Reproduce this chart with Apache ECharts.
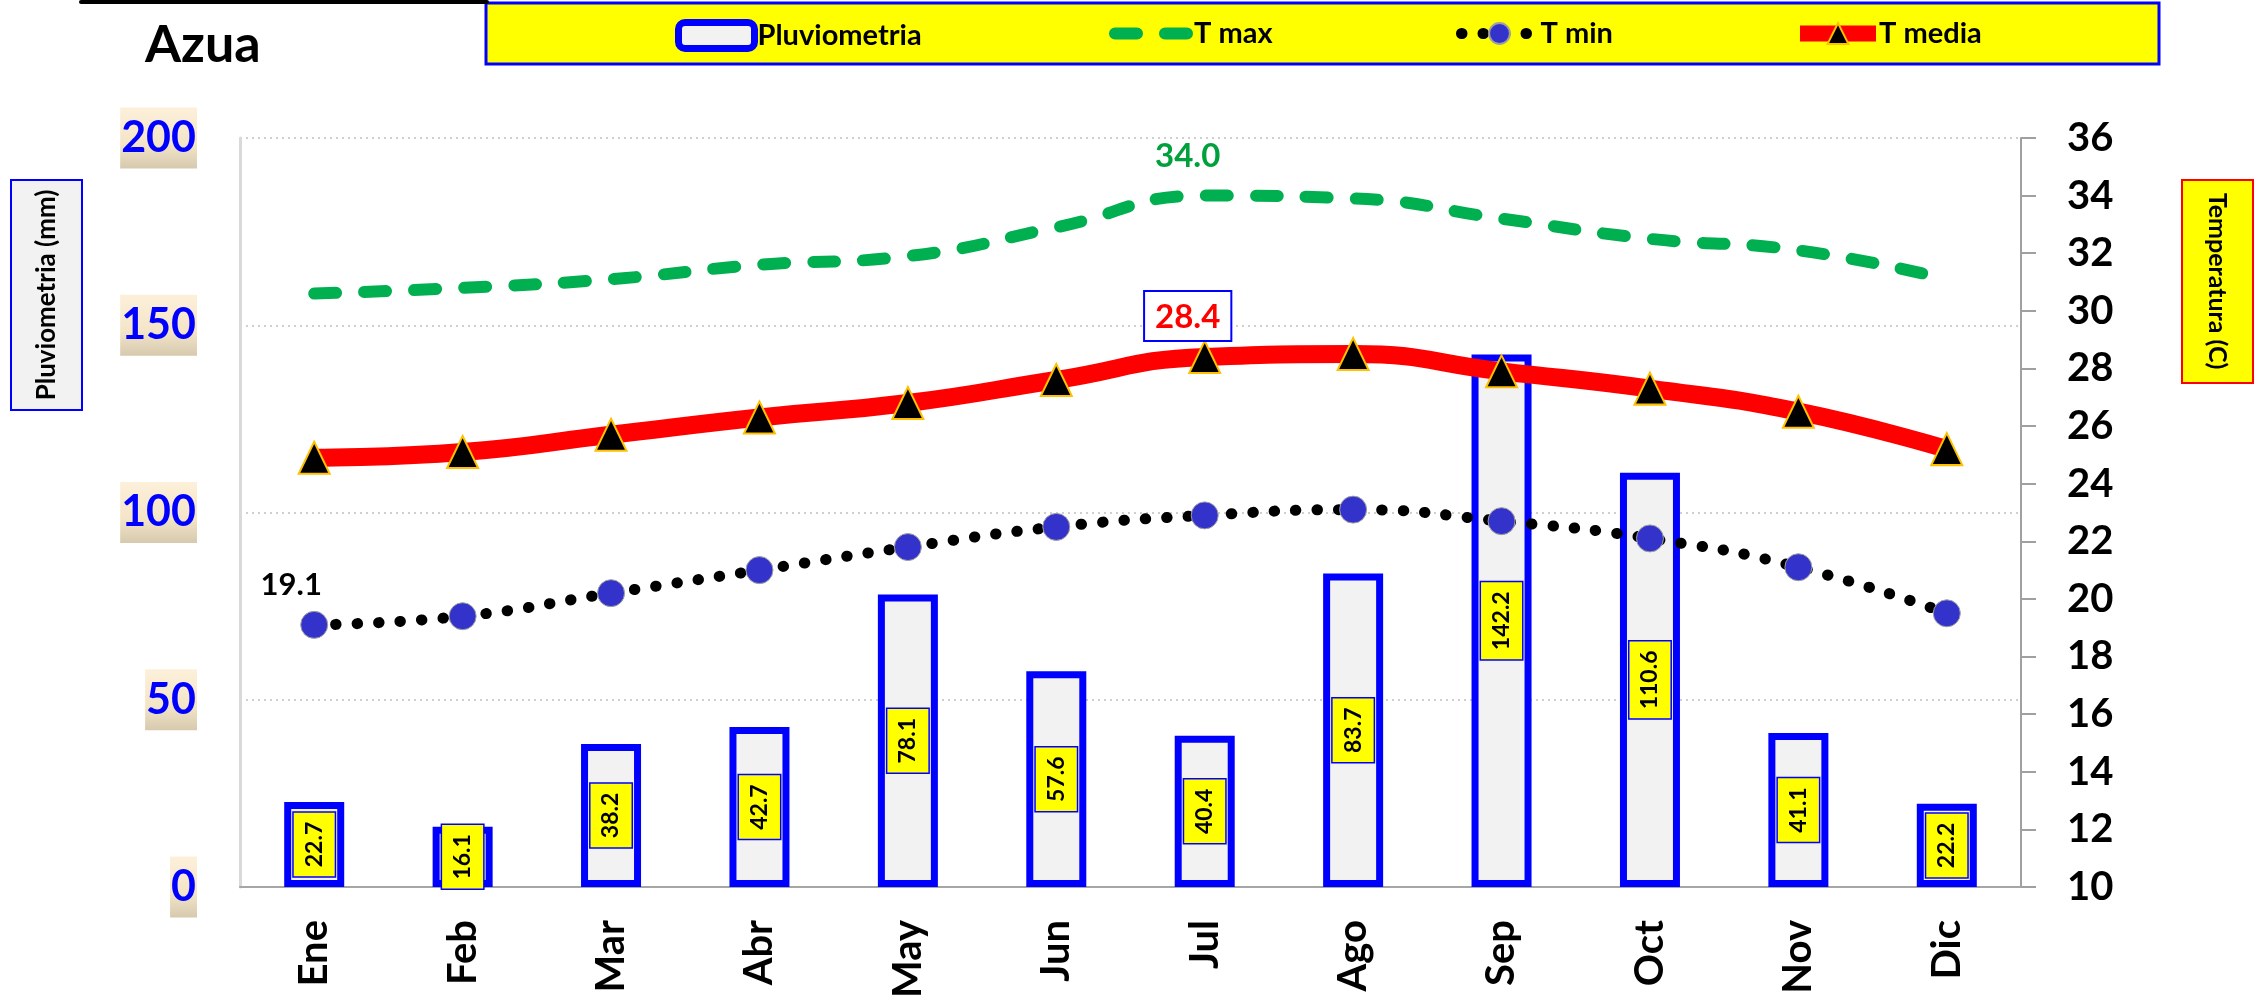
<!DOCTYPE html>
<html>
<head>
<meta charset="utf-8">
<title>Azua</title>
<script src="https://cdn.jsdelivr.net/npm/echarts@6/dist/echarts.min.js"></script>
<style>
html, body { margin: 0; padding: 0; background: #fff; }
#chart { width: 2262px; height: 1004px; }
</style>
</head>
<body>
<div id="chart"></div>
<script>
const months = ['Ene', 'Feb', 'Mar', 'Abr', 'May', 'Jun', 'Jul', 'Ago', 'Sep', 'Oct', 'Nov', 'Dic'];
const rain = [22.7, 16.1, 38.2, 42.7, 78.1, 57.6, 40.4, 83.7, 142.2, 110.6, 41.1, 22.2];
const tMax = [30.6, 30.8, 31.1, 31.6, 31.9, 32.9, 34.0, 33.9, 33.2, 32.5, 32.1, 31.1];
const tMin = [19.1, 19.4, 20.2, 21.0, 21.8, 22.5, 22.9, 23.1, 22.7, 22.1, 21.1, 19.5];
const tMedia = [24.9, 25.1, 25.7, 26.3, 26.8, 27.6, 28.4, 28.5, 27.9, 27.3, 26.5, 25.2];
const rainTicks = [0, 50, 100, 150, 200];
const tempTicks = [10, 12, 14, 16, 18, 20, 22, 24, 26, 28, 30, 32, 34, 36];

// which points carry a value label
const tMaxLabelAt = 6;
const tMinLabelAt = 0;
const tMediaLabelAt = 6;

// Calibri look-alike
const font = "Lato, 'Open Sans', sans-serif";

function pick(values, idx, label) {
    return values.map((v, i) => i === idx ? { value: v, label: Object.assign({ show: true }, label) } : v);
}

const chart = echarts.init(document.getElementById('chart'));

const labelBg = new echarts.graphic.LinearGradient(0, 0, 0, 1, [
    { offset: 0, color: '#FDF0DA' },
    { offset: 0.6, color: '#F4E5C8' },
    { offset: 1, color: '#D6C9AE' }
]);

function legendAt(item, left) {
    return {
        data: [item],
        left: left,
        top: 19,
        itemWidth: 76,
        itemHeight: 26,
        itemGap: 0,
        padding: 0,
        selectedMode: false,
        textStyle: { fontFamily: font, fontWeight: 'bold', fontSize: 29, color: '#000', padding: [2, 0, 0, -2] }
    };
}

chart.setOption({
    animation: false,
    backgroundColor: '#fff',
    grid: { left: 240, right: 241, top: 138, bottom: 117 },
    legend: [
        legendAt({ name: 'Pluviometria', itemStyle: { borderWidth: 7 } }, 675),
        legendAt({ name: 'T max', lineStyle: { width: 12 } }, 1109),
        legendAt({ name: 'T min', lineStyle: { width: 11 } }, 1456),
        legendAt({ name: 'T media', lineStyle: { width: 16 } }, 1792)
    ],
    graphic: [
        { type: 'rect', shape: { x: 79, y: 0, width: 410, height: 4, r: 2 }, style: { fill: '#000' } },
        { type: 'rect', shape: { x: 486, y: 3, width: 1673, height: 61 }, style: { fill: '#FFFF00', stroke: '#0000FF', lineWidth: 3 }, z: -1 },
        { type: 'text', x: 145, y: 45, style: { text: 'Azua', font: "bold 52px " + font, fill: '#000', textVerticalAlign: 'middle' } },
        { type: 'rect', shape: { x: 11, y: 180, width: 71, height: 230 }, style: { fill: '#F2F2F2', stroke: '#0000FF', lineWidth: 2 } },
        { type: 'text', x: 47, y: 295, rotation: Math.PI / 2, style: { text: 'Pluviometria (mm)', font: "bold 26px " + font, fill: '#000', textAlign: 'center', textVerticalAlign: 'middle' } },
        { type: 'rect', shape: { x: 2182, y: 180, width: 71, height: 203 }, style: { fill: '#FFFF00', stroke: '#FF0000', lineWidth: 2 } },
        { type: 'text', x: 2217, y: 281, rotation: -Math.PI / 2, style: { text: 'Temperatura (C)', font: "bold 25px " + font, fill: '#000', textAlign: 'center', textVerticalAlign: 'middle' } }
    ],
    xAxis: {
        type: 'category',
        data: months,
        axisLine: { lineStyle: { color: '#A6A6A6', width: 2 } },
        axisTick: { show: false },
        axisLabel: { rotate: 90, margin: 33, fontFamily: font, fontWeight: 'bold', fontSize: 40, color: '#000' }
    },
    yAxis: [
        {
            type: 'value',
            min: rainTicks[0],
            max: rainTicks[rainTicks.length - 1],
            interval: rainTicks[1] - rainTicks[0],
            axisLine: { show: true, lineStyle: { color: '#D9D9D9', width: 3 } },
            axisTick: { show: false },
            splitLine: { lineStyle: { color: '#CFCFCF', width: 2, type: [2, 4] } },
            axisLabel: {
                margin: 43,
                fontFamily: font, fontWeight: 'bold', fontSize: 43, color: '#0000FF',
                backgroundColor: labelBg,
                padding: [10, 1, 8, 1]
            }
        },
        {
            type: 'value',
            position: 'right',
            min: tempTicks[0],
            max: tempTicks[tempTicks.length - 1],
            interval: tempTicks[1] - tempTicks[0],
            axisLine: { show: true, lineStyle: { color: '#A0A0A0', width: 2 } },
            axisTick: { show: true, length: 15, lineStyle: { color: '#A0A0A0', width: 2 } },
            splitLine: { show: false },
            axisLabel: { margin: 46, fontFamily: font, fontWeight: 'bold', fontSize: 40, color: '#000' }
        }
    ],
    series: [
        {
            name: 'Pluviometria',
            type: 'bar',
            yAxisIndex: 0,
            barWidth: 60,
            data: rain,
            itemStyle: { color: '#F2F2F2', borderColor: '#0000FF', borderWidth: 7 },
            label: {
                show: true,
                position: 'inside',
                rotate: 90,
                formatter: p => p.value.toFixed(1),
                fontFamily: font, fontWeight: 'bold', fontSize: 23, color: '#000',
                backgroundColor: '#FFFF00', borderColor: '#0000FF', borderWidth: 1.5,
                padding: [10, 9, 8, 9]
            }
        },
        {
            name: 'T max',
            type: 'line',
            yAxisIndex: 1,
            smooth: true,
            symbol: 'circle',
            symbolSize: 1,
            itemStyle: { color: 'rgba(0,0,0,0)' },
            lineStyle: { color: '#00B050', width: 12, type: [22, 28], cap: 'round' },
            label: { show: false },
            data: pick(tMax, tMaxLabelAt, {
                position: 'top', distance: 22, offset: [-17, 0],
                formatter: p => p.value.toFixed(1),
                fontFamily: font, fontWeight: 'bold', fontSize: 33, color: '#00A03C'
            })
        },
        {
            name: 'T min',
            type: 'line',
            yAxisIndex: 1,
            smooth: true,
            symbol: 'circle',
            symbolSize: 27,
            itemStyle: { color: '#3333CC', borderColor: '#A0A0A0', borderWidth: 1 },
            lineStyle: { color: '#000', width: 11, type: [0.5, 21], cap: 'round' },
            label: { show: false },
            data: pick(tMin, tMinLabelAt, {
                position: 'top', distance: 10, offset: [-23, 0],
                formatter: p => p.value.toFixed(1),
                fontFamily: font, fontWeight: 'bold', fontSize: 31, color: '#000'
            })
        },
        {
            name: 'T media',
            type: 'line',
            yAxisIndex: 1,
            smooth: true,
            symbol: 'triangle',
            symbolSize: [31, 32],
            itemStyle: { color: '#000', borderColor: '#FFC000', borderWidth: 2 },
            lineStyle: { color: '#FF0000', width: 18 },
            label: { show: false },
            data: pick(tMedia, tMediaLabelAt, {
                position: 'top', distance: 0, offset: [-17, 0],
                formatter: p => p.value.toFixed(1),
                fontFamily: font, fontWeight: 'bold', fontSize: 33, color: '#FF0000',
                backgroundColor: '#fff', borderColor: '#0000FF', borderWidth: 2,
                padding: [9, 10, 6, 10]
            })
        }
    ]
});
</script>
</body>
</html>
